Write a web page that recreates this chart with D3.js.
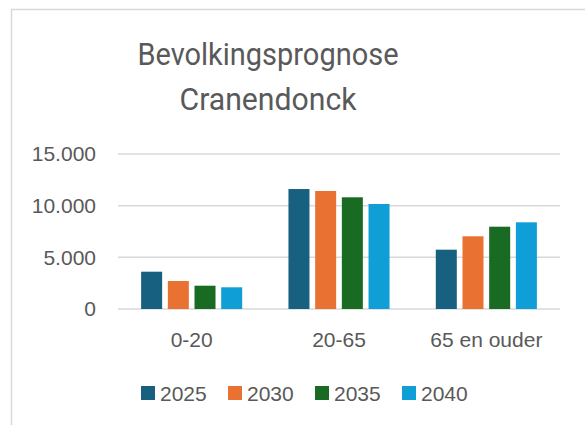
<!DOCTYPE html>
<html>
<head>
<meta charset="utf-8">
<script src="https://cdn.jsdelivr.net/npm/d3@7"></script>
<style>
  body { margin: 0; background: #fff; }
  text { font-family: "Liberation Sans", Arial, sans-serif; fill: #595959; }
</style>
</head>
<body>
<div id="wrapper"></div>
<script>
const categories = ["0-20", "20-65", "65 en ouder"]
const years = ["2025", "2030", "2035", "2040"]
const values = {
  "2025": [3610, 11610, 5740],
  "2030": [2710, 11420, 7035],
  "2035": [2255, 10810, 7965],
  "2040": [2100, 10160, 8390],
}
const yTicks = [0, 5000, 10000, 15000]
const colors = ["#17607f", "#e97132", "#196b24", "#0f9ed5"]
const titleLines = ["Bevolkingsprognose", "Cranendonck"]

function drawChart(){
  const dimensions = {
    width: 585,
    height: 425,
    margin: { top: 154, right: 25, bottom: 116, left: 118 },
  }
  dimensions.boundedWidth = dimensions.width - dimensions.margin.left - dimensions.margin.right
  dimensions.boundedHeight = dimensions.height - dimensions.margin.top - dimensions.margin.bottom

  const wrapper = d3.select("#wrapper")
    .append("svg")
      .attr("width", dimensions.width)
      .attr("height", dimensions.height)

  // chart area border (runs off the right and bottom edge)
  wrapper.append("rect")
      .attr("x", 11.5)
      .attr("y", 9.5)
      .attr("width", 700)
      .attr("height", 600)
      .attr("fill", "none")
      .attr("stroke", "#d9d9d9")
      .attr("stroke-width", 1.5)

  // title, narrow font in the original so squeeze it a bit
  const titleWidths = [261, 177]
  wrapper.selectAll(".title")
    .data(titleLines)
    .join("text")
      .attr("class", "title")
      .attr("x", 268)
      .attr("y", (d, i) => 65 + i * 45)
      .attr("text-anchor", "middle")
      .attr("textLength", (d, i) => titleWidths[i])
      .attr("lengthAdjust", "spacingAndGlyphs")
      .style("font-family", "Roboto, sans-serif")
      .style("font-size", "32px")
      .text(d => d)

  const bounds = wrapper.append("g")
      .attr("transform", `translate(${dimensions.margin.left}, ${dimensions.margin.top})`)

  const yScale = d3.scaleLinear()
    .domain([0, 15000])
    .range([dimensions.boundedHeight, 0])

  const x0 = d3.scaleBand()
    .domain(categories)
    .range([0, dimensions.boundedWidth])
    .paddingInner(0.314)
    .paddingOuter(0.157)

  const x1 = d3.scaleBand()
    .domain(years)
    .range([0, x0.bandwidth()])
    .paddingInner(0.213)

  const colorScale = d3.scaleOrdinal().domain(years).range(colors)

  // gridlines
  bounds.append("g")
    .selectAll("line")
    .data(yTicks)
    .join("line")
      .attr("x1", 0)
      .attr("x2", dimensions.boundedWidth)
      .attr("y1", d => yScale(d))
      .attr("y2", d => yScale(d))
      .attr("stroke", "#d9d9d9")
      .attr("stroke-width", 1.5)

  const yAxisGenerator = d3.axisLeft(yScale)
    .tickValues(yTicks)
    .tickFormat(d => d3.format(",")(d).replace(/,/g, "."))
    .tickSize(0)
    .tickPadding(22)

  const yAxis = bounds.append("g").call(yAxisGenerator)
  yAxis.select(".domain").remove()
  yAxis.selectAll("text")
      .attr("fill", "#595959")
      .style("font-size", "21px")
      .style("font-family", "Liberation Sans, Arial, sans-serif")

  const groups = bounds.selectAll(".group")
    .data(categories)
    .join("g")
      .attr("class", "group")
      .attr("transform", d => `translate(${x0(d)}, 0)`)

  groups.selectAll("rect")
    .data((c, i) => years.map(y => ({ year: y, value: values[y][i] })))
    .join("rect")
      .attr("x", d => x1(d.year))
      .attr("y", d => yScale(d.value))
      .attr("width", x1.bandwidth())
      .attr("height", d => yScale(0) - yScale(d.value))
      .attr("fill", d => colorScale(d.year))

  const xAxisGenerator = d3.axisBottom(x0)
    .tickSize(0)
    .tickPadding(23)

  const xAxis = bounds.append("g")
      .attr("transform", `translate(0, ${dimensions.boundedHeight})`)
      .call(xAxisGenerator)
  xAxis.select(".domain").remove()
  xAxis.selectAll("text")
      .attr("fill", "#595959")
      .style("font-size", "21px")
      .style("font-family", "Liberation Sans, Arial, sans-serif")

  // legend
  const legend = wrapper.append("g")
    .selectAll("g")
    .data(years)
    .join("g")
      .attr("transform", (d, i) => `translate(${141 + i * 87}, 386)`)

  legend.append("rect")
      .attr("width", 14)
      .attr("height", 14)
      .attr("fill", d => colorScale(d))

  legend.append("text")
      .attr("x", 19)
      .attr("y", 14.5)
      .style("font-size", "21px")
      .text(d => d)
}

drawChart()
</script>
</body>
</html>
